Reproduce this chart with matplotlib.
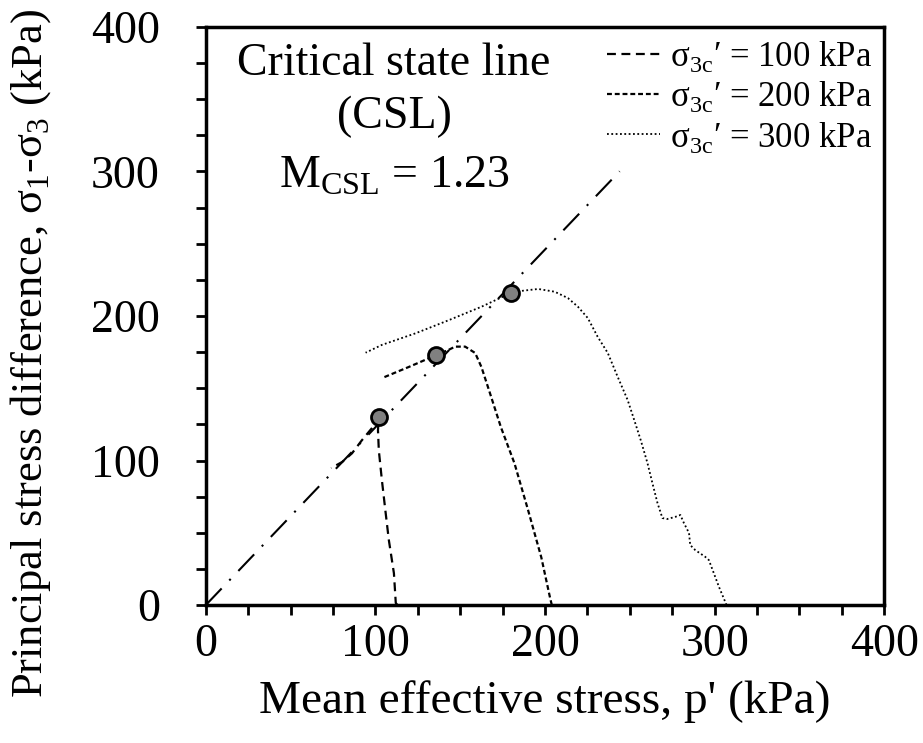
import matplotlib
matplotlib.use("Agg")
import matplotlib.pyplot as plt
import numpy as np

plt.rcParams['font.family'] = ['Liberation Serif', 'DejaVu Serif']
plt.rcParams['mathtext.fontset'] = 'custom'
plt.rcParams['mathtext.rm'] = 'Liberation Serif'

# stress paths (p', q) for each confining pressure
p_100 = [113, 112, 110.9, 107.9, 106, 103.8, 102, 101.5, 102, 98, 92, 86.2, 80.4, 73.9]
q_100 = [0, 1.4, 22, 45, 64, 86.5, 107, 121, 130, 122.5, 114, 105, 99, 94.8]

p_200 = [204, 203, 197.8, 190, 182, 174, 167.5, 162.5, 158.8, 152.9, 147, 143, 136,
         119.6, 103.8]
q_200 = [0, 4.8, 33, 65.7, 98, 123, 146.7, 164.7, 174.4, 178.8, 178.8, 176.5, 173,
         164.7, 157]

p_300 = [307, 306.2, 302.5, 299.5, 296.6, 294.4, 288.6, 285.6, 284.9, 281.9, 279.8,
         276.8, 272, 269.2, 266.3, 263.3, 260.4, 256.4, 252.6, 248.7, 242.8, 237, 231,
         225.2, 219.4, 213.5, 205.7, 196, 187, 180, 162.5, 143, 123.6, 103.8, 94.2]
q_300 = [0, 2.3, 12.7, 22.1, 31.1, 33.4, 38, 41.5, 49.8, 56.7, 62.3, 61, 59.5, 60.2,
         70.6, 84.4, 98.2, 114.2, 128, 141.9, 158, 174.4, 185.7, 198.6, 206.4, 212.4,
         216.8, 218.7, 217.5, 216, 206.4, 197, 188, 180, 174.6]

# critical state points
p_cs = [102, 136, 180]
q_cs = [130, 173, 216]

M_csl = 1.23
p_csl = np.array([0, 244])

fig = plt.figure(figsize=(9.23, 7.43), dpi=100)
ax = fig.add_axes([0.223, 0.1857, 0.735, 0.778])

ax.plot(p_csl, M_csl * p_csl, color='black', lw=1.5, dashes=(11, 5.3, 1, 5.3))
l1, = ax.plot(p_100, q_100, color='black', lw=1.6, dashes=(4, 2.5),
              label="σ$_\\mathregular{3c}$′ = 100 kPa")
l2, = ax.plot(p_200, q_200, color='black', lw=1.6, dashes=(2.2, 1.3),
              label="σ$_\\mathregular{3c}$′ = 200 kPa")
l3, = ax.plot(p_300, q_300, color='black', lw=1.3, dashes=(1, 1.4),
              label="σ$_\\mathregular{3c}$′ = 300 kPa")
ax.plot(p_cs, q_cs, 'o', ms=11.5, mfc='#808080', mec='black', mew=2, zorder=5)

ax.text(111, 367, "Critical state line", ha='center', va='baseline', fontsize=33)
ax.text(111, 330, "(CSL)", ha='center', va='baseline', fontsize=33)
ax.text(111, 289, "M$_\\mathregular{CSL}$ = 1.23", ha='center', va='baseline', fontsize=33)

leg = ax.legend(handles=[l1, l2, l3], loc='upper right', fontsize=25,
                handlelength=1.5, handletextpad=0.3, labelspacing=0.15,
                borderpad=0.15, borderaxespad=0.2, frameon=False)

ax.set_xlim(0, 400)
ax.set_ylim(0, 400)
ax.set_xticks([0, 100, 200, 300, 400])
ax.set_yticks([0, 100, 200, 300, 400])
ax.set_xticks(np.arange(0, 401, 25), minor=True)
ax.set_yticks(np.arange(0, 401, 25), minor=True)
ax.tick_params(which='both', direction='out', length=7, width=2, labelsize=33)
ax.tick_params(axis='x', pad=6)
ax.tick_params(axis='y', pad=26)
for s in ax.spines.values():
    s.set_linewidth(2.5)

ax.set_xlabel("Mean effective stress, p' (kPa)", fontsize=34)
ax.set_ylabel("Principal stress difference, σ$_\\mathregular{1}$-σ$_\\mathregular{3}$ (kPa)",
              fontsize=32)
ax.xaxis.set_label_coords(0.5, -0.13)
ax.yaxis.set_label_coords(-0.225, 0.436)

fig.savefig('out.png', dpi=100)
